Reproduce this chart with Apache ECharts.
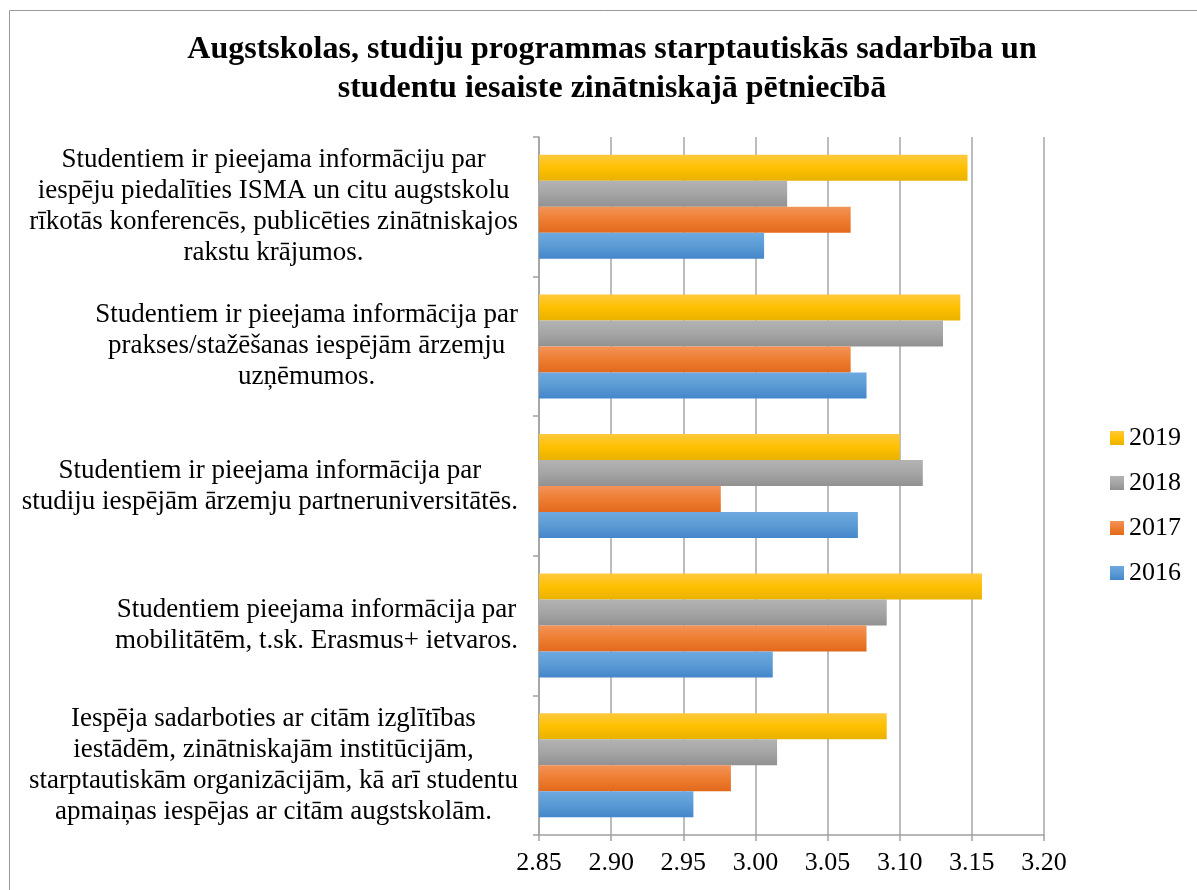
<!DOCTYPE html>
<html>
<head>
<meta charset="utf-8">
<script src="https://cdn.jsdelivr.net/npm/echarts@6/dist/echarts.min.js"></script>
<style>
  html, body { margin: 0; padding: 0; background: #fff; }
  #chart { width: 1197px; height: 890px; }
</style>
</head>
<body>
<div id="chart"></div>
<script>
// categories, top to bottom as in the picture
const categories = [
    'Studentiem ir pieejama informāciju par\niespēju piedalīties ISMA un citu augstskolu\nrīkotās konferencēs, publicēties zinātniskajos\nrakstu krājumos.',
    'Studentiem ir pieejama informācija par\nprakses/stažēšanas iespējām ārzemju\nuzņēmumos.',
    'Studentiem ir pieejama informācija par\nstudiju iespējām ārzemju partneruniversitātēs.',
    'Studentiem pieejama informācija par\nmobilitātēm, t.sk. Erasmus+ ietvaros.',
    'Iespēja sadarboties ar citām izglītības\niestādēm, zinātniskajām institūcijām,\nstarptautiskām organizācijām, kā arī studentu\napmaiņas iespējas ar citām augstskolām.'
];
// drawn top to bottom inside each group
const years = ['2019', '2018', '2017', '2016'];
const values2016 = [3.006, 3.077, 3.071, 3.012, 2.957];
const values2017 = [3.066, 3.066, 2.976, 3.077, 2.983];
const values2018 = [3.022, 3.130, 3.116, 3.091, 3.015];
const values2019 = [3.147, 3.142, 3.100, 3.157, 3.091];
const xTicks = { min: 2.85, max: 3.20, step: 0.05 };

const font = '"Liberation Serif", "Times New Roman", serif';

function grad(top, mid, bottom) {
    return new echarts.graphic.LinearGradient(0, 0, 0, 1, [
        { offset: 0, color: top },
        { offset: 0.5, color: mid },
        { offset: 1, color: bottom }
    ]);
}
const colors = {
    '2016': grad('#6ea9e0', '#5b9bd5', '#4386ca'),
    '2017': grad('#f39358', '#ee7d31', '#e2691b'),
    '2018': grad('#b3b3b3', '#a5a5a5', '#919191'),
    '2019': grad('#ffc93d', '#ffc000', '#e8b200')
};
const seriesValues = { '2016': values2016, '2017': values2017, '2018': values2018, '2019': values2019 };

var dom = document.getElementById('chart');
var myChart = echarts.init(dom);

const option = {
    backgroundColor: '#fff',
    textStyle: { fontFamily: font },
    graphic: [{
        type: 'rect',
        shape: { x: 9.5, y: 10.5, width: 1200, height: 900 },
        style: { fill: 'none', stroke: '#9a9a9a', lineWidth: 1 },
        silent: true
    }],
    title: {
        text: 'Augstskolas, studiju programmas starptautiskās sadarbība un\nstudentu iesaiste zinātniskajā pētniecībā',
        left: 607,
        textAlign: 'center',
        top: 25,
        textStyle: { fontFamily: font, fontSize: 32, fontWeight: 'bold', color: '#000', lineHeight: 39 }
    },
    legend: {
        data: ['2019', '2018', '2017', '2016'],
        orient: 'vertical',
        left: 1105,
        top: 420,
        itemWidth: 14,
        itemHeight: 14,
        itemGap: 19,
        icon: 'rect',
        textStyle: { fontFamily: font, fontSize: 26, color: '#000' }
    },
    grid: { left: 539, right: 153, top: 137, bottom: 55, containLabel: false },
    xAxis: {
        type: 'value',
        min: xTicks.min,
        max: xTicks.max,
        interval: xTicks.step,
        axisLine: { show: true, lineStyle: { color: '#a0a0a0', width: 1.5 } },
        axisTick: { show: true, length: 6, lineStyle: { color: '#a0a0a0', width: 1.5 } },
        splitLine: { show: true, lineStyle: { color: '#a6a6a6', width: 1.5 } },
        axisLabel: {
            formatter: v => v.toFixed(2),
            fontFamily: font, fontSize: 26, color: '#000', margin: 15
        }
    },
    yAxis: {
        type: 'category',
        data: categories,
        inverse: true,
        axisLine: { show: true, lineStyle: { color: '#a0a0a0', width: 1.5 } },
        axisTick: { show: true, length: 6, lineStyle: { color: '#a0a0a0', width: 1.5 } },
        axisLabel: {
            margin: 21,
            formatter: v => v.split('\n').map(l => '{c|' + l + '}').join('\n'),
            rich: {
                c: { align: 'center', fontFamily: font, fontSize: 27, lineHeight: 31, color: '#000' }
            }
        }
    },
    series: years.map(y => ({
        name: y,
        type: 'bar',
        data: seriesValues[y],
        barWidth: 26,
        barGap: '0%',
        itemStyle: { color: colors[y] }
    }))
};
myChart.setOption(option);
</script>
</body>
</html>
